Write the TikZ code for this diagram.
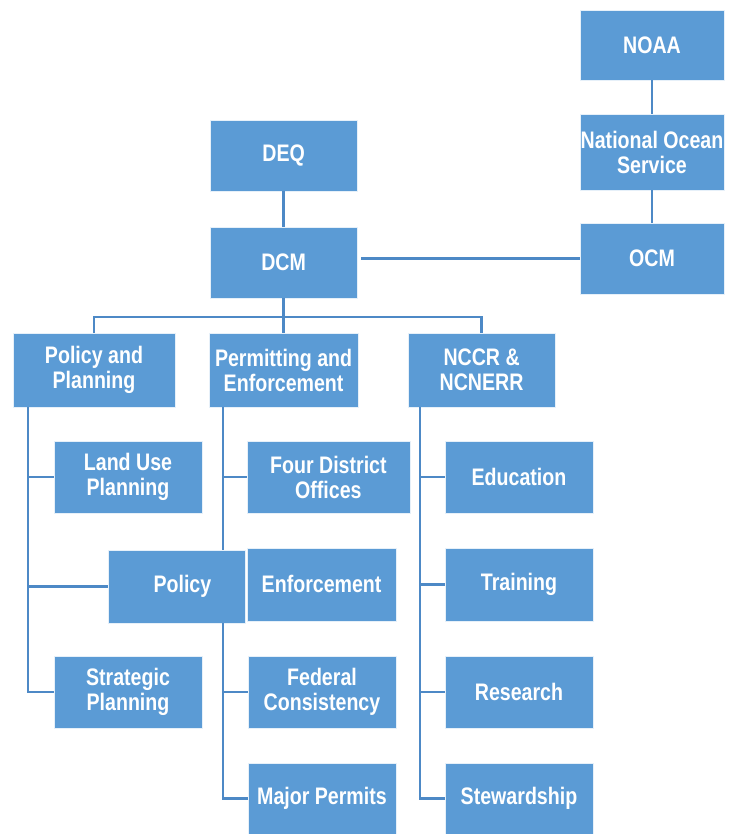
\documentclass[tikz,border=0pt]{standalone}
\usepackage{fontspec}
\newfontfamily\boxfont{Liberation Sans}[FakeStretch=0.82]
\usepackage{tikz}
\usetikzlibrary{positioning,calc}

\definecolor{boxblue}{HTML}{5B9BD5}
\definecolor{lineblue}{HTML}{4D89C6}

\begin{document}
\begin{tikzpicture}[
		unit/.style={fill=boxblue, draw=white!85!boxblue, line width=0.4pt, text=white,
			font=\boxfont\bfseries\fontsize{17}{17.8}\selectfont, align=center,
			inner sep=0pt, minimum width=3.7cm, minimum height=1.8cm},
		link/.style={draw=lineblue, line width=2.1pt}
	]
			\useasboundingbox (0,0) rectangle (18.275,20.85);
			
			% federal side
			\node[unit, minimum width=3.6cm, minimum height=1.75cm] (noaa) at (16.3,19.725) {NOAA};
			\node[unit, minimum width=3.6cm, minimum height=1.9cm] (nos) at (16.3,17.05) {National Ocean\\Service};
			\node[unit, minimum width=3.6cm, minimum height=1.775cm] (ocm) at (16.3,14.39) {OCM};
			
			% state side
			\node[unit, minimum width=3.675cm, minimum height=1.775cm] (deq) at (7.09,16.96) {DEQ};
			\node[unit, minimum width=3.675cm, minimum height=1.775cm] (dcm) at (7.09,14.29) {DCM};
			
			\node[unit, minimum width=4.05cm, minimum height=1.85cm] (polplan) at (2.35,11.6) {Policy and\\Planning};
			\node[unit, minimum width=3.725cm, minimum height=1.85cm] (permit) at (7.09,11.6) {Permitting and\\Enforcement};
			\node[unit, minimum width=3.675cm, minimum height=1.85cm] (nccr) at (12.04,11.6) {NCCR \&\\NCNERR};
			
			\node[unit] (landuse) at (3.2,8.925) {Land Use\\Planning};
			\node[unit] (strat) at (3.2,3.55) {Strategic\\Planning};
			
			\node[unit, minimum width=4.075cm] (district) at (8.21,8.925) {Four District\\Offices};
			\node[unit, minimum width=3.725cm, minimum height=1.825cm] (enforce) at (8.04,6.24) {Enforcement};
			\node[unit] (fedcons) at (8.05,3.55) {Federal\\Consistency};
			\node[unit, minimum height=1.775cm] (major) at (8.05,0.89) {Major Permits};
			
			\node[unit] (educ) at (12.975,8.925) {Education};
			\node[unit, minimum height=1.825cm] (train) at (12.975,6.24) {Training};
			\node[unit] (research) at (12.975,3.55) {Research};
			\node[unit, minimum height=1.775cm] (steward) at (12.975,0.89) {Stewardship};
			
			\node[unit, minimum width=3.425cm, minimum height=1.825cm] (policy) at (4.41,6.19) {\hspace*{0.3cm}Policy};
			
			\coordinate (bus) at (0,12.925);
			\coordinate (lspine) at (0.7,0);
			\coordinate (mspine) at (5.575,0);
			\coordinate (rspine) at (10.5,0);
			
			\draw[link] (noaa) -- (nos);
			\draw[link] (nos) -- (ocm);
			\draw[link] (deq) -- (dcm);
			\draw[link] (ocm.west) -- ($(ocm.west -| dcm.east)+(0.1,0)$);
			
			\draw[link] (dcm) -- (permit);
			\draw[link] (polplan.north) |- (bus -| nccr.north) -- (nccr.north);
			
			\draw[link] (lspine |- polplan.south) |- (strat.west);
			\draw[link] (lspine |- landuse.west) -- (landuse.west);
			\draw[link] (lspine |- policy.west) -- (policy.west);
			
			\draw[link] (mspine |- permit.south) -- (mspine |- policy.north);
			\draw[link] (mspine |- policy.south) |- (major.west);
			\draw[link] (mspine |- district.west) -- (district.west);
			\draw[link] (mspine |- fedcons.west) -- (fedcons.west);
			
			\draw[link] (rspine |- nccr.south) |- (steward.west);
			\draw[link] (rspine |- educ.west) -- (educ.west);
			\draw[link] (rspine |- train.west) -- (train.west);
			\draw[link] (rspine |- research.west) -- (research.west);
		\end{tikzpicture}
\end{document}
